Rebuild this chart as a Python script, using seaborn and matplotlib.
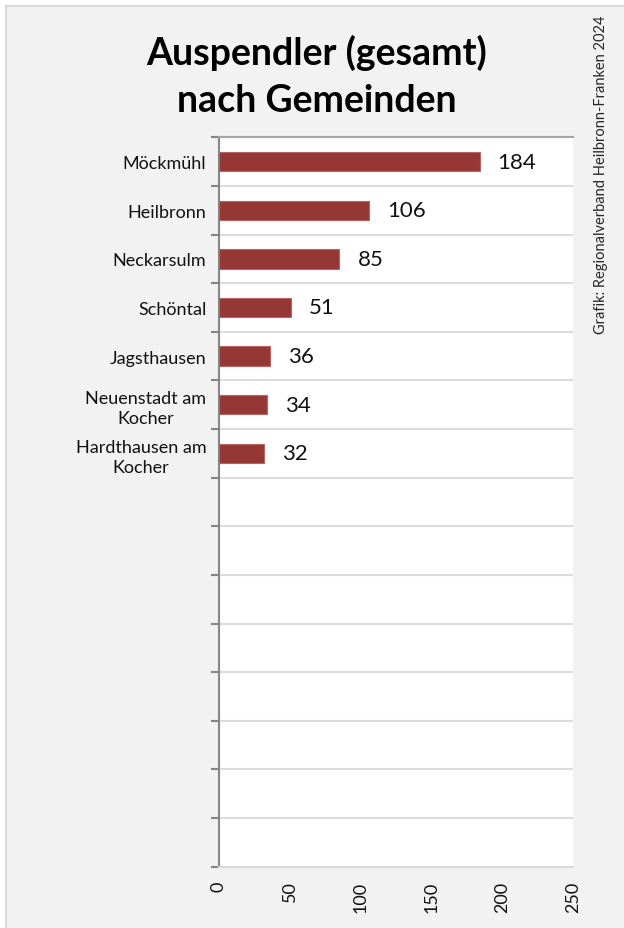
import matplotlib
matplotlib.use("Agg")
import matplotlib.pyplot as plt
import matplotlib.patches as mpatches
from matplotlib.ticker import FixedLocator
import seaborn as sns
import pandas as pd

categories = ["Möckmühl", "Heilbronn", "Neckarsulm", "Schöntal", "Jagsthausen",
              "Neuenstadt am\nKocher", "Hardthausen am\nKocher"]
values = [184, 106, 85, 51, 36, 34, 32]
x_ticks = [0, 50, 100, 150, 200, 250]
n_slots = 15
title_lines = ["Auspendler (gesamt)", "nach Gemeinden"]
credit = "Grafik: Regionalverband Heilbronn-Franken 2024"

sns.set_theme(style="white")
plt.rcParams["font.family"] = ["Lato", "DejaVu Sans"]

W, H = 624, 929
fig = plt.figure(figsize=(W / 100, H / 100), dpi=100, facecolor="white")

# outer gray panel (runs off the right and bottom edges)
panel = mpatches.Rectangle((6 / W, -0.05), 1.1, 1.05 - 7 / H, transform=fig.transFigure,
                           facecolor="#f2f2f2", edgecolor="#d9d9d9", lw=1.5, zorder=-5)
fig.patches.append(panel)

left, right, top, bottom = 219, 573, 138.3, 867.7
ax = fig.add_axes([left / W, 1 - bottom / H, (right - left) / W, (bottom - top) / H])
ax.set_zorder(1)
ax.set_facecolor("white")

df = pd.DataFrame({"Gemeinde": categories, "Wert": values})
sns.barplot(data=df, x="Wert", y="Gemeinde", order=categories, orient="h",
            color="#953735", width=0.4, saturation=1, edgecolor="#b86462",
            linewidth=0.8, ax=ax, zorder=3)

ax.set_ylim(n_slots - 0.5, -0.5)
ax.set_xlim(x_ticks[0], x_ticks[-1])
ax.set_xlabel("")
ax.set_ylabel("")

bounds = [i - 0.5 for i in range(n_slots + 1)]
ax.yaxis.set_minor_locator(FixedLocator(bounds))
ax.grid(True, axis="y", which="minor", color="#dcdcdc", lw=1.5, zorder=0)
ax.grid(False, axis="x")
ax.tick_params(axis="y", which="minor", length=6, width=1.5, color="#868686", direction="out", left=True)
ax.tick_params(axis="y", which="major", length=0, pad=9, labelsize=13, labelcolor="#111111")
for lab in ax.get_yticklabels():
    lab.set_multialignment("center")
    lab.set_linespacing(1.3)

ax.set_xticks(x_ticks)
ax.set_xticklabels([str(t) for t in x_ticks], rotation=90, va="top", ha="center")
ax.tick_params(axis="x", which="major", length=0, pad=10, labelsize=13, labelcolor="#111111")

ax.spines["right"].set_visible(False)
ax.spines["left"].set_color("#868686")
ax.spines["left"].set_linewidth(1.5)
ax.spines["bottom"].set_color("#d9d9d9")
ax.spines["bottom"].set_linewidth(1.5)
ax.spines["top"].set_color("#a6a6a6")
ax.spines["top"].set_linewidth(1.5)

for i, v in enumerate(values):
    ax.annotate(str(v), xy=(v, i), xytext=(13, 0), textcoords="offset points",
                ha="left", va="center", fontsize=16, color="#111111", zorder=5)

for y_base, line in zip([65, 111.7], title_lines):
    fig.text(317 / W, 1 - y_base / H, line, ha="center", va="baseline", fontsize=27,
             fontweight="bold", color="black")

fig.text(601 / W, 1 - 15 / H, credit, rotation=90, ha="center", va="top",
         fontsize=10.5, color="#262626")

fig.savefig("out.png", dpi=100, facecolor=fig.get_facecolor())
